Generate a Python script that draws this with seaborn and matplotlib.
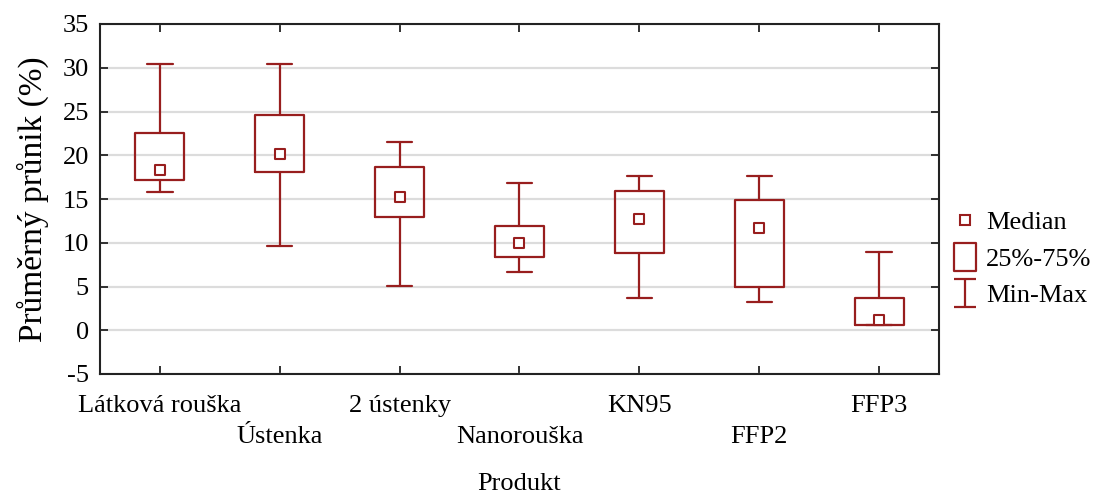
import matplotlib
matplotlib.use("Agg")
import matplotlib.pyplot as plt
import seaborn as sns
import pandas as pd
from matplotlib.lines import Line2D
from matplotlib.path import Path

categories = ["Látková rouška", "Ústenka", "2 ústenky", "Nanorouška", "KN95", "FFP2", "FFP3"]
medians = [18.3, 20.1, 15.2, 10.0, 12.7, 11.65, 1.2]
q1 = [17.2, 18.05, 12.9, 8.4, 8.8, 4.9, 0.55]
q3 = [22.6, 24.6, 18.7, 11.9, 15.95, 14.9, 3.65]
mins = [15.8, 9.6, 5.05, 6.7, 3.65, 3.2, 0.55]
maxs = [30.4, 30.4, 21.5, 16.8, 17.6, 17.6, 9.0]
yticks = [-5, 0, 5, 10, 15, 20, 25, 30, 35]

RED = "#981e1e"

sns.set_theme(style="white")
plt.rcParams["font.family"] = ["Liberation Serif", "DejaVu Serif"]
plt.rcParams["text.color"] = "black"

fig = plt.figure(figsize=(11.04, 4.97), dpi=100)
ax = fig.add_axes([100 / 1104, 1 - 374 / 497, 839 / 1104, 350 / 497])

stats = []
for c, md, a, b, lo, hi in zip(categories, medians, q1, q3, mins, maxs):
    stats.append({"label": c, "med": md, "q1": a, "q3": b, "whislo": lo, "whishi": hi, "fliers": []})

lp = dict(color=RED, linewidth=1.6)
ax.bxp(stats, positions=list(range(len(categories))), widths=0.41, capwidths=0.21,
       showfliers=False, boxprops=lp, whiskerprops=lp, capprops=lp,
       medianprops=dict(linestyle="none"), manage_ticks=False)

df = pd.DataFrame({"Produkt": categories, "Median": medians})
sns.scatterplot(data=df, x="Produkt", y="Median", marker="s", s=58, facecolor="white",
                edgecolor=RED, linewidth=1.5, ax=ax, zorder=5, legend=False)

ax.set_xlim(-0.5, len(categories) - 0.5)
ax.set_ylim(-5, 35)
ax.set_yticks(yticks)
ax.set_yticklabels([str(v) for v in yticks])
ax.set_xticks(list(range(len(categories))))
ax.set_xticklabels([c if i % 2 == 0 else "\n" + c for i, c in enumerate(categories)],
                   linespacing=1.55)
ax.yaxis.grid(True, color="#dcdcdc", linewidth=1.6)
ax.set_axisbelow(True)
for s in ax.spines.values():
    s.set_color("#222222")
    s.set_linewidth(1.5)
ax.tick_params(axis="both", direction="in", length=6, width=1.3, color="#222222",
               top=True, right=True, bottom=True, left=True, labelsize=19, labelcolor="black")
ax.tick_params(axis="x", pad=15)
ax.tick_params(axis="y", pad=8)
ax.set_xlabel("Produkt", fontsize=19, color="black", labelpad=18)
ax.set_ylabel("Průměrný průnik (%)", fontsize=24, color="black", labelpad=10)

rect_path = Path([(-0.39, -0.5), (0.39, -0.5), (0.39, 0.5), (-0.39, 0.5), (-0.39, -0.5)],
                 [Path.MOVETO, Path.LINETO, Path.LINETO, Path.LINETO, Path.CLOSEPOLY])
ibar_path = Path([(-0.41, -0.5), (0.41, -0.5), (0, -0.5), (0, 0.5), (-0.41, 0.5), (0.41, 0.5)],
                 [Path.MOVETO, Path.LINETO, Path.MOVETO, Path.LINETO, Path.MOVETO, Path.LINETO])
handles = [
    Line2D([], [], linestyle="none", marker="s", markersize=7.5, markerfacecolor="white",
           markeredgecolor=RED, markeredgewidth=1.5),
    Line2D([], [], linestyle="none", marker=rect_path, markersize=20, markerfacecolor="none",
           markeredgecolor=RED, markeredgewidth=1.6),
    Line2D([], [], linestyle="none", marker=ibar_path, markersize=20, markerfacecolor="none",
           markeredgecolor=RED, markeredgewidth=1.6),
]
leg = fig.legend(handles, ["Median", "25%-75%", "Min-Max"], loc="center left",
                 bbox_to_anchor=(952 / 1104, 1 - 259 / 497), frameon=False, fontsize=19,
                 handlelength=1.0, handletextpad=0.3, labelspacing=0.5, borderpad=0,
                 borderaxespad=0)
for t in leg.get_texts():
    t.set_color("black")

fig.savefig("out.png", dpi=100)
